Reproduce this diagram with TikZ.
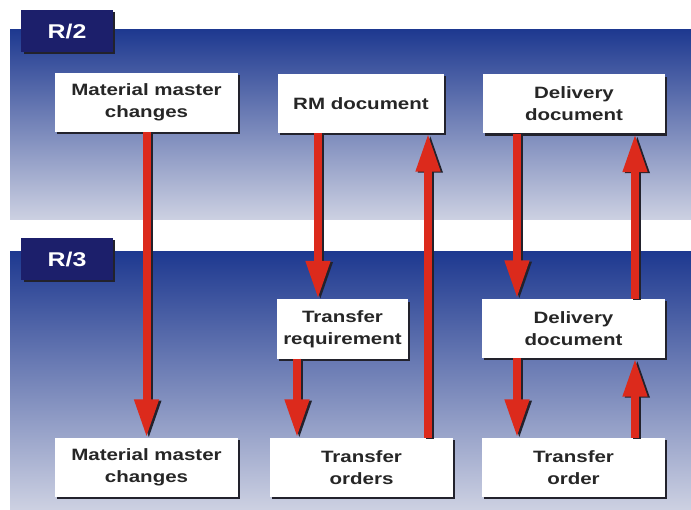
\documentclass[tikz,border=0pt]{standalone}
\usepackage{fontspec}
\setmainfont{Liberation Sans}[FakeStretch=1.25]
\usetikzlibrary{arrows.meta,positioning,shadows}
\definecolor{sysNavy}{HTML}{1C1F6B}
\definecolor{bandTop}{HTML}{1E3990}
\definecolor{bandMid}{HTML}{5068A8}
\definecolor{bandBot}{HTML}{CDD1E2}
\definecolor{flowRed}{HTML}{DC2A1C}
\definecolor{shadeDark}{HTML}{22222C}
% red flow arrow with its dark shadow
\newcommand\flowar[2]{%
  \draw[arshade] #1 -- #2;
  \draw[ar] #1 -- #2;}

\begin{document}
\begin{tikzpicture}[x=0.03cm,y=-0.03cm,
  font=\fontsize{14}{19}\selectfont\bfseries,
  band/.style={top color=bandTop,middle color=bandMid,bottom color=bandBot,draw=none},
  tab/.style={fill=sysNavy,text=white,minimum width=2.73cm,minimum height=1.26cm,
    font=\fontsize{17}{19}\selectfont\bfseries,
    drop shadow={shadow xshift=2pt,shadow yshift=-2pt,fill=shadeDark,opacity=1}},
  box/.style={fill=white,text=black!85,align=center,minimum height=1.77cm,inner sep=2pt,
    drop shadow={shadow xshift=1.8pt,shadow yshift=-1.8pt,fill=shadeDark,opacity=1}},
  ar/.style={-{Triangle[length=1.15cm,width=0.68cm]},line width=0.24cm,draw=flowRed},
  arshade/.style={ar,draw=shadeDark,transform canvas={shift={(2pt,-1pt)}}}]

\useasboundingbox (0,0) rectangle (691,510);
\fill[white] (0,0) rectangle (691,510);

% system bands
\fill[band] (10,30) rectangle (691,220);
\fill[band] (10,252) rectangle (691,510);
\node[tab] (r2) at (67,31) {R/2};
\node[tab] (r3) at (67,259) {R/3};

% R/2 documents
\node[box,minimum width=5.49cm] (mmR2) at (146.5,102.5) {Material master\\changes};
\node[box,minimum width=4.98cm] (rmdoc) at (361,103.5) {RM document};
\node[box,minimum width=5.46cm] (delR2) at (574,104) {Delivery\\document};

% R/3 documents
\node[box,minimum width=3.93cm] (treq) at (342.5,329) {Transfer\\requirement};
\node[box,minimum width=5.49cm] (delR3) at (573.5,328.5) {Delivery\\document};
\node[box,minimum width=5.49cm] (mmR3) at (146.5,467.5) {Material master\\changes};
\node[box,minimum width=5.49cm] (tords) at (361.5,467.5) {Transfer\\orders};
\node[box,minimum width=5.49cm] (tord) at (573.5,467.5) {Transfer\\order};

% arrow columns
\coordinate (cA) at (318,0);
\coordinate (cB) at (428,0);
\coordinate (cC) at (297,0);
\coordinate (cD) at (517,0);
\coordinate (cE) at (635,0);

\flowar{(mmR2.south)}{(mmR3.north)}
\flowar{(rmdoc.south -| cA)}{(treq.north -| cA)}
\flowar{(tords.north -| cB)}{(rmdoc.south -| cB)}
\flowar{(delR2.south -| cD)}{(delR3.north -| cD)}
\flowar{(delR3.north -| cE)}{(delR2.south -| cE)}
\flowar{(treq.south -| cC)}{(tords.north -| cC)}
\flowar{(delR3.south -| cD)}{(tord.north -| cD)}
\flowar{(tord.north -| cE)}{(delR3.south -| cE)}
\end{tikzpicture}
\end{document}
